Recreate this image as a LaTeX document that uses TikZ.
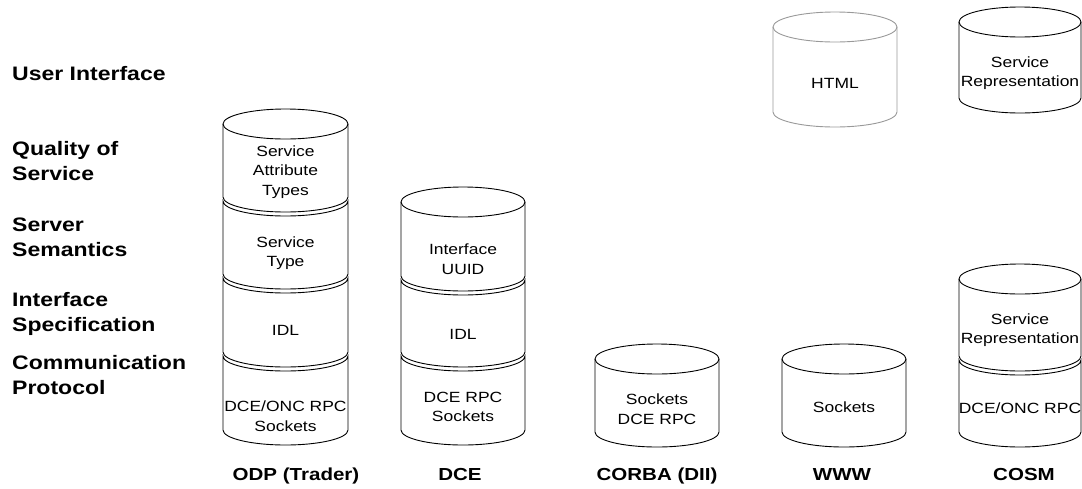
\documentclass[tikz,border=0pt]{standalone}
\usepackage{fontspec}
\newfontfamily\af[FakeStretch=1.18]{Liberation Sans}
\newcommand\CylFull[5][black]{%
  \pgfmathsetmacro\crx{(#3-#2)/2}%
  \draw[#1,fill=white,line width=0.9pt] (#2,-#4) -- (#2,-#5) arc[start angle=180,end angle=360,x radius=\crx,y radius=15] -- (#3,-#4) arc[start angle=0,end angle=180,x radius=\crx,y radius=15] -- cycle;
  \draw[#1,line width=0.9pt] (#2,-#4) arc[start angle=180,end angle=360,x radius=\crx,y radius=15];
}
\newcommand\CylSeg[5][black]{%
  \pgfmathsetmacro\crx{(#3-#2)/2}%
  \draw[#1,fill=white,line width=0.9pt] (#2,-#4) -- (#2,-#5) arc[start angle=180,end angle=360,x radius=\crx,y radius=15] -- (#3,-#4) arc[start angle=0,end angle=-180,x radius=\crx,y radius=15] -- cycle;
}
\tikzset{
  celltext/.style={align=center,inner sep=0pt,font=\af\fontsize{14.8}{19.5}\selectfont},
  rowlabel/.style={align=left,inner sep=0pt,font=\af\bfseries\fontsize{19.5}{25}\selectfont},
  collabel/.style={inner sep=0pt,anchor=base,font=\af\bfseries\fontsize{17.4}{20}\selectfont}
}
\begin{document}
\begin{tikzpicture}[x=1pt,y=1pt]
\useasboundingbox (0,0) rectangle (1082,-488);
\fill[white] (0,0) rectangle (1082,-488);

% row labels
\node[rowlabel,anchor=base west] (lui) at (12,-80) {User Interface};
\node[rowlabel,anchor=west] (lqos) at (12,-161) {Quality of\\Service};
\node[rowlabel,anchor=west] (lss) at (12,-237) {Server\\Semantics};
\node[rowlabel,anchor=west] (lis) at (12,-314) {Interface\\Specification};
\node[rowlabel,anchor=west] (lcp) at (12,-375) {Communication\\Protocol};

% ODP (Trader)
\CylFull{223}{348}{124}{197}
\CylSeg{223}{348}{201}{274}
\CylSeg{223}{348}{278}{352}
\CylSeg{223}{348}{356}{430}
\node[celltext] (odp1) at (285.5,-172) {Service\\Attribute\\Types};
\node[celltext] (odp2) at (285.5,-253) {Service\\Type};
\node[celltext] (odp3) at (285.5,-330) {IDL};
\node[celltext] (odp4) at (285.5,-416) {DCE/ONC RPC\\Sockets};

% DCE
\CylFull{401}{525}{202}{276}
\CylSeg{401}{525}{280}{352}
\CylSeg{401}{525}{356}{430}
\node[celltext] (dce1) at (463,-259) {Interface\\UUID};
\node[celltext] (dce2) at (463,-334) {IDL};
\node[celltext] (dce3) at (463,-407) {DCE RPC\\Sockets};

% CORBA
\CylFull{595}{719}{359}{432}
\node[celltext] (corba1) at (657,-409) {Sockets\\DCE RPC};

% WWW
\CylFull[black!40]{773}{897}{27}{112}
\node[celltext] (www1) at (835,-83) {HTML};
\CylFull{782}{906}{359}{432}
\node[celltext] (www2) at (844,-407) {Sockets};

% COSM
\CylFull{959}{1081}{22}{98}
\node[celltext] (cosm0) at (1020,-73) {Service\\Representation};
\CylFull{959}{1081}{279}{356}
\CylSeg{959}{1081}{360}{432}
\node[celltext] (cosm1) at (1020,-330) {Service\\Representation};
\node[celltext] (cosm2) at (1020,-408) {DCE/ONC RPC};

% column labels
\node[collabel] (codp) at (296,-480) {ODP (Trader)};
\node[collabel] (cdce) at (460,-480) {DCE};
\node[collabel] (ccorba) at (657,-480) {CORBA (DII)};
\node[collabel] (cwww) at (842,-480) {WWW};
\node[collabel] (ccosm) at (1024,-480) {COSM};
\end{tikzpicture}
\end{document}
